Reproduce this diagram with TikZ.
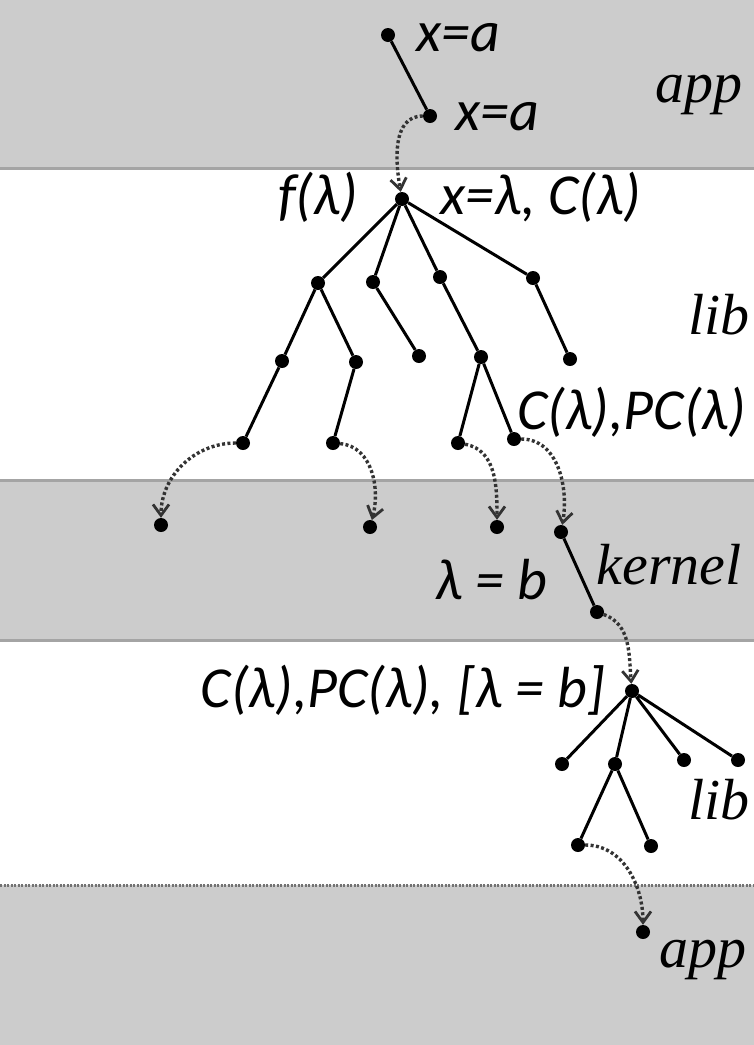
\documentclass[tikz,border=0pt]{standalone}
\usepackage{fontspec}
\setmainfont{Liberation Serif}
\setsansfont{Carlito}
\usetikzlibrary{arrows.meta}
\definecolor{band}{HTML}{CCCCCC}
\definecolor{bandedge}{HTML}{A4A4A4}
\begin{document}
\begin{tikzpicture}[x=1pt,y=-1pt,
  pt/.style={circle,fill=black,inner sep=0pt,minimum size=14pt},
  edge/.style={line width=3pt},
  jump/.style={line width=3.4pt,dash pattern=on 3pt off 2.4pt,black!80,
    -{Straight Barb[length=11pt,width=16pt,line width=2.8pt]}},
  lbl/.style={font=\fontsize{58}{62}\selectfont\sffamily\itshape,inner sep=0pt},
  layer/.style={font=\fontsize{58}{62}\selectfont\itshape,inner sep=0pt}]
\useasboundingbox (0,0) rectangle (754,1045);
% layer bands
\fill[band] (0,0) rectangle (754,168);
\draw[bandedge,line width=3pt] (0,168) -- (754,168);
\fill[band] (0,480) rectangle (754,640);
\draw[bandedge,line width=3pt] (0,480) -- (754,480);
\draw[bandedge,line width=3pt] (0,640) -- (754,640);
\fill[band] (0,885) rectangle (754,1045);
\draw[black!55,line width=3pt,dash pattern=on 2pt off 1.5pt] (0,885) -- (754,885);
% layer names
\node[layer] (lapp1) at (699,95) {app};
\node[layer] (llib1) at (719,315) {lib};
\node[layer] (lkern) at (669,565) {kernel};
\node[layer] (llib2) at (719,800) {lib};
\node[layer] (lapp2) at (703,960) {app};
% application
\node[pt] (a1) at (388,35) {};
\node[pt] (a2) at (430,116) {};
% library tree
\node[pt] (r) at (402,199) {};
\node[pt] (p1) at (318,283) {};
\node[pt] (p2) at (373,282) {};
\node[pt] (p3) at (440,277) {};
\node[pt] (p4) at (533,278) {};
\node[pt] (q1) at (282,361) {};
\node[pt] (q2) at (356,362) {};
\node[pt] (q3) at (419,356) {};
\node[pt] (q4) at (481,357) {};
\node[pt] (q5) at (570,359) {};
\node[pt] (s1) at (243,443) {};
\node[pt] (s2) at (333,443) {};
\node[pt] (s3) at (458,443) {};
\node[pt] (s4) at (514,439) {};
% kernel
\node[pt] (k1) at (161,525) {};
\node[pt] (k2) at (370,527) {};
\node[pt] (k3) at (497,527) {};
\node[pt] (k4) at (561,532) {};
\node[pt] (k5) at (597,612) {};
% second library tree
\node[pt] (m) at (632,691) {};
\node[pt] (m1) at (562,764) {};
\node[pt] (m2) at (615,764) {};
\node[pt] (m3) at (684,760) {};
\node[pt] (m4) at (738,760) {};
\node[pt] (n1) at (578,845) {};
\node[pt] (n2) at (651,846) {};
% back in the application
\node[pt] (z) at (643,932) {};
% solid edges
\draw[edge] (a1) -- (a2);
\draw[edge] (r) -- (p1) (r) -- (p2) (r) -- (p3) (r) -- (p4);
\draw[edge] (p1) -- (q1) (p1) -- (q2) (p2) -- (q3) (p3) -- (q4) (p4) -- (q5);
\draw[edge] (q1) -- (s1) (q2) -- (s2) (q4) -- (s3) (q4) -- (s4);
\draw[edge] (k4) -- (k5);
\draw[edge] (m) -- (m1) (m) -- (m2) (m) -- (m3) (m) -- (m4);
\draw[edge] (m2) -- (n1) (m2) -- (n2);
% calls across layers
\draw[jump] (a2) to[out=180,in=100] (r);
\draw[jump] (s1) to[out=180,in=90] (k1);
\draw[jump] (s2) to[out=-5,in=75] (k2);
\draw[jump] (s3) to[out=-10,in=90] (k3);
\draw[jump] (s4) to[out=0,in=80] (k4);
\draw[jump] (k5) to[out=-20,in=95] (m);
\draw[jump] (n1) to[out=0,in=90] (z);
% labels
\node[lbl,anchor=west] (t1) at (416,38) {x=a};
\node[lbl,anchor=west] (t2) at (455,117) {x=a};
\node[lbl,anchor=east] (t3) at (358,197) {f(λ)};
\node[lbl,anchor=west] (t4) at (440,197) {x=λ, C(λ)};
\node[lbl,anchor=west] (t5) at (517,412) {C(λ),PC(λ)};
\node[lbl,anchor=west] (t6) at (435,580) {λ = b};
\node[lbl,anchor=east] (t7) at (605,690) {C(λ),PC(λ), [λ = b]};
\end{tikzpicture}
\end{document}
